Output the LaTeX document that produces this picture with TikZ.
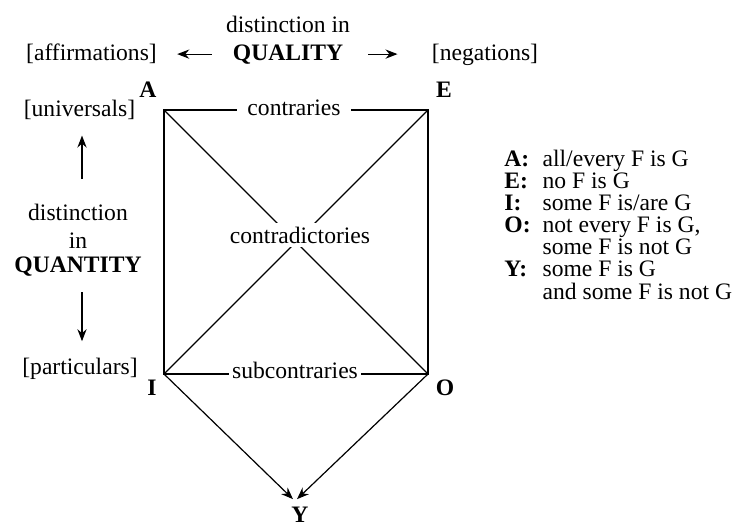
\documentclass[tikz,border=0pt]{standalone}
\usepackage{fontspec}
\setmainfont{Liberation Serif}
\usetikzlibrary{arrows.meta}

\begin{document}
\begin{tikzpicture}[x=0.5pt, y=-0.5pt, >={Stealth[length=6pt,width=4.6pt]},
    font=\fontsize{11.8}{10.9}\selectfont,
    txt/.style={inner sep=0pt, anchor=base},
    edge/.style={line width=0.6pt},
    tag/.style={fill=white, inner ysep=2pt, anchor=base}]
    \useasboundingbox (0,0) rectangle (735,525);

    \coordinate (cA) at (164,110);
    \coordinate (cE) at (428,110);
    \coordinate (cI) at (164,374);
    \coordinate (cO) at (428,374);

    % quality
    \node[txt] (qualhead) at (288,32) {distinction in};
    \node[txt] (qual) at (288,60) {\textbf{QUALITY}};
    \node[txt] (aff) at (91.5,60) {[affirmations]};
    \node[txt] (neg) at (485,60) {[negations]};
    \draw[->, edge] ([xshift=-10.5pt]qual.west) -- ([xshift=10pt]aff.east |- qual.west);
    \draw[->, edge] ([xshift=12.5pt]qual.east) -- ([xshift=-17pt]neg.west |- qual.east);

    % quantity
    \node[txt] (univ) at (79.5,116) {[universals]};
    \node[txt] (qdist) at (78,220) {distinction};
    \node[txt] (qin) at (78,248) {in};
    \node[txt] (quant) at (78,272) {\textbf{QUANTITY}};
    \node[txt] (part) at (80,374) {[particulars]};
    \draw[->, edge] ([shift={(2pt,12pt)}]qdist.north) -- ([shift={(2pt,-8pt)}]qdist.north |- univ.south);
    \draw[->, edge] ([shift={(2pt,-8pt)}]quant.south) -- ([shift={(2pt,8pt)}]quant.south |- part.north);

    % square of opposition
    \draw[edge] (cA) -- (cE) -- (cO) -- (cI) -- cycle;
    \draw[edge] (cA) -- (cO);
    \draw[edge] (cE) -- (cI);

    \node[tag, inner xsep=5pt] (contr) at (294,115) {contraries};
    \node[tag, inner xsep=2pt] (contrad) at (300,243) {contradictories};
    \node[tag, inner xsep=1.5pt] (subcontr) at (295,378) {subcontraries};

    \node[txt] (lA) at (148,97) {\textbf{A}};
    \node[txt] (lE) at (444,97) {\textbf{E}};
    \node[txt] (lI) at (152,395) {\textbf{I}};
    \node[txt] (lO) at (445,395) {\textbf{O}};
    \node[txt] (lY) at (300,522) {\textbf{Y}};

    \draw[->, edge] (cI) -- ([shift={(-3.5pt,3.5pt)}]lY.north);
    \draw[->, edge] (cO) -- ([shift={(-1.5pt,3.5pt)}]lY.north);

    % legend
    \node[txt, anchor=base west] (legend) at (504,166) {%
        \begin{tabular}[t]{@{}l@{\hspace{6pt}}l@{}}
            \textbf{A:} & all/every F is G\\
            \textbf{E:} & no F is G\\
            \textbf{I:} & some F is/are G\\
            \textbf{O:} & not every F is G,\\
                        & some F is not G\\
            \textbf{Y:} & some F is G\\
                        & and some F is not G
        \end{tabular}};
\end{tikzpicture}
\end{document}
